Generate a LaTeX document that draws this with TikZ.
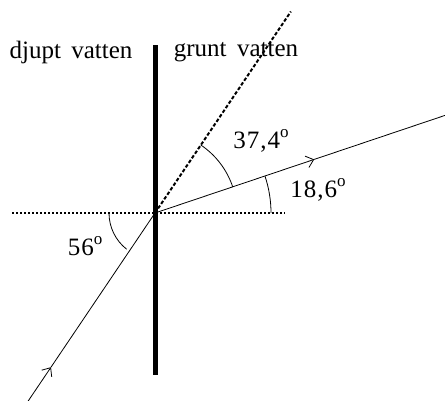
\documentclass[tikz,border=0pt]{standalone}
\usepackage{fontspec}
\setmainfont{Liberation Serif}
\usetikzlibrary{arrows.meta}
\newcommand{\dego}{\raisebox{0.45em}{\fontsize{17}{19}\selectfont o}}
\begin{document}
\begin{tikzpicture}[x=1pt,y=1pt,
  thinline/.style={line width=0.8pt},
  barline/.style={line width=5pt},
  dotline/.style={line width=2.6pt, dash pattern=on 2.4pt off 1.6pt},
  dashline/.style={line width=2pt, dash pattern=on 3.5pt off 2pt},
  lbl/.style={font=\fontsize{25}{29}\selectfont, inner sep=0pt},
  tipped/.style={thinline, -{Straight Barb[length=7pt,width=12pt,line width=0.8pt]}}]
\useasboundingbox (0,0) rectangle (445,401);
\coordinate (O) at (155,188);
% boundary bar
\coordinate (B1) at (155,26);
\coordinate (B2) at (155,356);
\draw[barline] (B1) -- (B2);
% horizontal dotted normal
\coordinate (H1) at (12,188);
\coordinate (H2) at (285,188);
\draw[dotline] (H1) -- (H2);
% dashed extension of incident ray
\coordinate (D) at ([shift={(56:243)}]O);
\draw[dashline] (O) -- (D);
% incident ray
\coordinate (I0) at ([shift={(236:228)}]O);
\coordinate (IM) at ([shift={(236:186)}]O);
\draw[tipped] (I0) -- (IM);
\draw[thinline] (IM) -- (O);
% refracted ray
\coordinate (RM) at ([shift={(18.6:168)}]O);
\coordinate (R1) at ([shift={(18.6:306)}]O);
\draw[tipped] (O) -- (RM);
\draw[thinline] (RM) -- (R1);
% angle arcs
\draw[thinline] ([shift={(180:46)}]O) arc[start angle=180, end angle=232, radius=46];
\draw[thinline] ([shift={(0:116)}]O) arc[start angle=0, end angle=18.6, radius=116];
\draw[thinline] ([shift={(18.6:82)}]O) arc[start angle=18.6, end angle=56, radius=82];
% labels
\node[lbl] (deep) at (71,349) {djupt\, vatten};
\node[lbl] (shallow) at (236,349) {grunt\, vatten};
\node[lbl] (a374) at (261,260) {3\kern1pt7\kern1pt,\kern1pt4\dego};
\node[lbl] (a186) at (318,211) {1\kern1pt8\kern1pt,\kern1pt6\dego};
\node[lbl] (a56) at (85,155) {5\kern1pt6\dego};
\end{tikzpicture}
\end{document}
